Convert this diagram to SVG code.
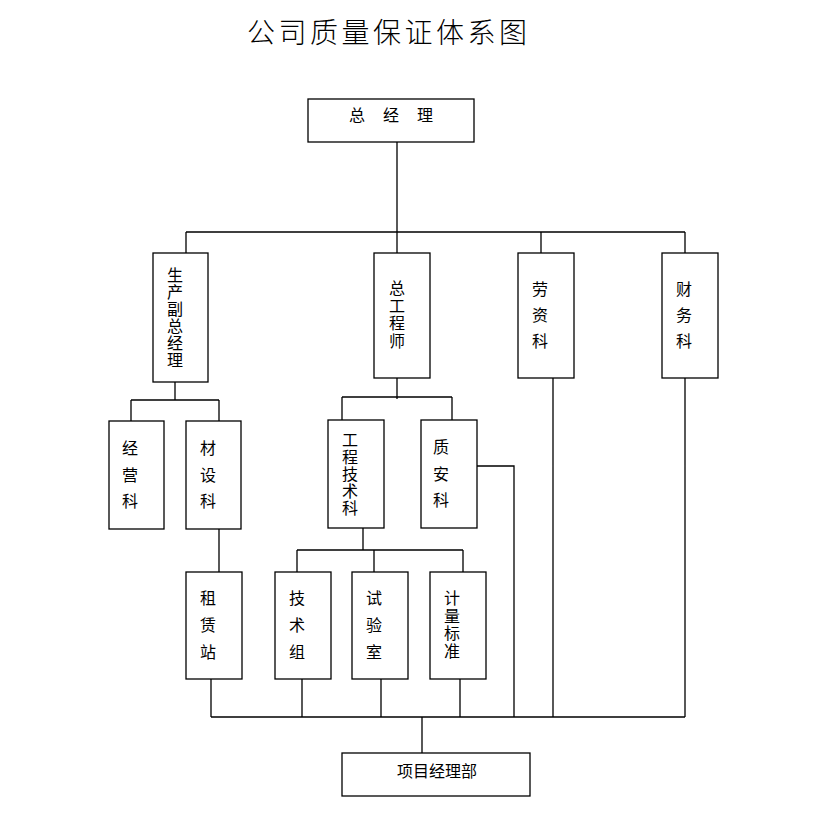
<svg xmlns="http://www.w3.org/2000/svg" width="816" height="820" viewBox="0 0 816 820">
<style>
.box{fill:#fff;stroke:#000;stroke-width:1.3}
.ln{fill:none;stroke:#000;stroke-width:1.3}
.t{font-family:"Noto Sans CJK SC","Noto Sans CJK JP",sans-serif;font-size:16px;fill:#000;text-anchor:middle}
.v{writing-mode:vertical-rl;text-orientation:upright}
.title{font-family:"Noto Sans CJK SC","Noto Sans CJK JP",sans-serif;font-size:28px;font-weight:300;fill:#000;letter-spacing:3.5px}
</style>
<rect width="816" height="820" fill="#fff"/>
<text class="title" x="247" y="43">公司质量保证体系图</text>
<g id="connectors">
<path class="ln" d="M397 142V232M186 232H685M186 232V253M397 232V253M541 232V253M685 232V253"/>
<path class="ln" d="M175 382V400M131 400H219M131 400V421M219 400V421M219 529V572"/>
<path class="ln" d="M397 378V399M342 397H452M342 397V420M452 397V420"/>
<path class="ln" d="M363 528V550M297 550H463M297 550V572M374 550V572M463 550V572"/>
<path class="ln" d="M477 466H514V717M553 378V717M685 378V717"/>
<path class="ln" d="M211 679V717M302 679V717M381 679V717M460 679V717M211 717H685M422 717V753"/>
</g>
<g id="n-zjl"><rect class="box" x="308" y="99" width="166" height="43"/><text class="t" x="391" y="121" style="letter-spacing:18px" dx="9">总经理</text></g>
<g id="n-scfzjl"><rect class="box" x="153" y="253" width="55" height="129"/><text class="t v" x="175" y="318" style="letter-spacing:1px">生产副总经理</text></g>
<g id="n-zgcs"><rect class="box" x="374" y="253" width="56" height="125"/><text class="t v" x="397" y="315.3" style="letter-spacing:1.7px">总工程师</text></g>
<g id="n-lzk"><rect class="box" x="518" y="253" width="56" height="125"/><text class="t v" x="540" y="320" style="letter-spacing:10px">劳资科</text></g>
<g id="n-cwk"><rect class="box" x="662" y="253" width="56" height="125"/><text class="t v" x="684" y="320" style="letter-spacing:10px">财务科</text></g>
<g id="n-jyk"><rect class="box" x="109" y="421" width="55" height="108"/><text class="t v" x="130" y="479.7" style="letter-spacing:10.5px">经营科</text></g>
<g id="n-csk"><rect class="box" x="186" y="421" width="55" height="108"/><text class="t v" x="208" y="479.7" style="letter-spacing:10.5px">材设科</text></g>
<g id="n-gcjsk"><rect class="box" x="328" y="420" width="56" height="108"/><text class="t v" x="350" y="474.5" style="letter-spacing:1px">工程技术科</text></g>
<g id="n-zak"><rect class="box" x="421" y="420" width="56" height="108"/><text class="t v" x="441" y="478.7" style="letter-spacing:10.5px">质安科</text></g>
<g id="n-zlz"><rect class="box" x="186" y="572" width="56" height="107"/><text class="t v" x="208" y="630.5" style="letter-spacing:11px">租赁站</text></g>
<g id="n-jsz"><rect class="box" x="275" y="572" width="56" height="107"/><text class="t v" x="297" y="630.5" style="letter-spacing:11px">技术组</text></g>
<g id="n-sys"><rect class="box" x="352" y="572" width="56" height="107"/><text class="t v" x="374" y="630.5" style="letter-spacing:11px">试验室</text></g>
<g id="n-jlbz"><rect class="box" x="430" y="572" width="56" height="107"/><text class="t v" x="452" y="625.3" style="letter-spacing:1.7px">计量标准</text></g>
<g id="n-xmjlb"><rect class="box" x="342" y="753" width="188" height="43"/><text class="t" x="437" y="777">项目经理部</text></g>
</svg>
